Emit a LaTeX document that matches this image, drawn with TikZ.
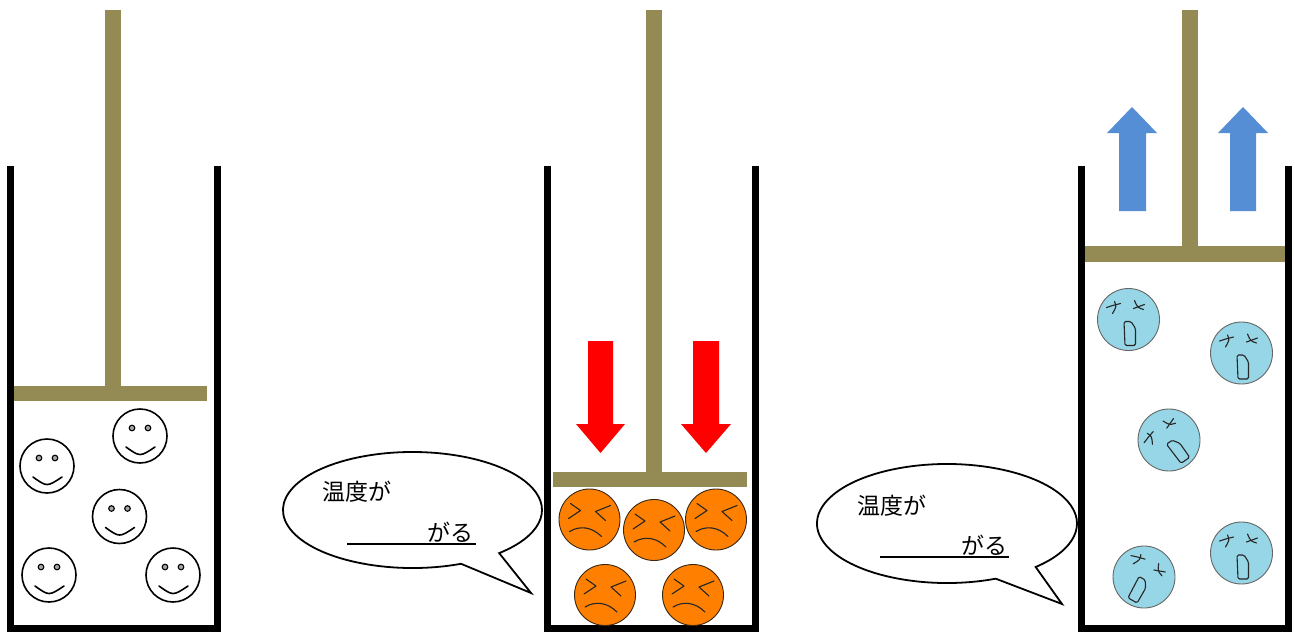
\documentclass[tikz,border=0pt]{standalone}
\usepackage{fontspec}
\newfontfamily\jpfont{Noto Sans CJK JP}
\usetikzlibrary{calc}

\definecolor{pistoncol}{RGB}{148,138,84}
\definecolor{pushred}{RGB}{255,0,0}
\definecolor{pullblue}{RGB}{85,142,213}
\definecolor{hotface}{RGB}{255,128,0}
\definecolor{coldface}{RGB}{150,214,230}

\tikzset{
  wall/.style={line width=7pt, line cap=butt, line join=miter},
  piston/.style={fill=pistoncol, draw=none},
  bubble/.style={draw=black, fill=white, line width=1.8pt, line join=miter},
  jp/.style={font=\jpfont\fontsize{23}{28}\selectfont, inner sep=0pt},
  uline/.style={line width=2.4pt},
  feat/.style={draw=black!85, line width=1.1pt, line cap=round, line join=round},
  smiley/.pic={
    \draw[line width=1.6pt] (0,0) circle[radius=27];
    \draw[line width=1.1pt, fill=black!35] (-8,-8) circle[radius=2.8];
    \draw[line width=1.1pt, fill=black!35] (8,-8) circle[radius=2.8];
    \draw[line width=1.6pt, line cap=round] (-14,11) .. controls (0,21) .. (15,11);
  },
  angry/.pic={
    \draw[fill=hotface, draw=black!70!brown, line width=0.9pt] (0,0) circle[radius=30.5];
    \draw[feat] (-19,-16) -- (-9,-9) -- (-21,-1);
    \draw[feat] (21,-14) -- (6,-8) -- (16,1);
    \draw[feat] (-20,12) .. controls (-10,6) and (2,7) .. (12,17);
  },
  dizzy/.pic={
    \draw[fill=coldface, draw=black!60, line width=0.9pt] (0,0) circle[radius=31];
    \draw[feat] (-22,-12) .. controls (-16,-14) .. (-8,-16);
    \draw[feat] (-14,-18) .. controls (-12,-13) .. (-16,-6);
    \draw[feat] (6,-19) .. controls (9,-12) .. (15,-10);
    \draw[feat] (5,-11) -- (16,-15);
    \draw[feat, rounded corners=1.5pt] (-4.5,2) -- (2.5,2) -- (7,9) -- (7,26) -- (-3.5,26) -- cycle;
  }
}

\begin{document}
\begin{tikzpicture}[x=1pt,y=-1pt]
\useasboundingbox[fill=white] (0,0) rectangle (1295,632);

% ---- left cylinder: piston at rest ----
\fill[piston] (105,10) rectangle (121,386);
\fill[piston] (13,386) rectangle (207,401);
\draw[wall] (10,166) -- (10,628) -- (217,628) -- (217,166);
\pic at (140,436) {smiley};
\pic at (47,466) {smiley};
\pic at (119.5,516.5) {smiley};
\pic at (49,575) {smiley};
\pic at (173,575) {smiley};

% ---- middle cylinder: compression ----
\fill[piston] (646,10) rectangle (662,472);
\fill[piston] (553,472) rectangle (747,487);
\draw[wall] (547,166) -- (547,628) -- (755,628) -- (755,166);
\fill[pushred] (588,341) -- (613,341) -- (613,424) -- (625,424) -- (600.5,453)
  -- (576,424) -- (588,424) -- cycle;
\fill[pushred] (693,341) -- (719,341) -- (719,424) -- (731,424) -- (706,453)
  -- (681,424) -- (693,424) -- cycle;
\pic at (589.5,519.5) {angry};
\pic at (654,530) {angry};
\pic at (716,519.5) {angry};
\pic at (605,595) {angry};
\pic at (693,595) {angry};

% ---- right cylinder: expansion ----
\fill[piston] (1182,10) rectangle (1198,246);
\fill[piston] (1085,246) rectangle (1285,262);
\draw[wall] (1081,166) -- (1081,628) -- (1288,628) -- (1288,166);
\fill[pullblue] (1119,211) -- (1146,211) -- (1146,133) -- (1157,133) -- (1132,107)
  -- (1107,133) -- (1119,133) -- cycle;
\fill[pullblue] (1230,211) -- (1256,211) -- (1256,133) -- (1268,133) -- (1243,107)
  -- (1218,133) -- (1230,133) -- cycle;
\pic at (1128.5,319.5) {dizzy};
\pic at (1241.5,353) {dizzy};
\pic[rotate=35] at (1169,440) {dizzy};
\pic[rotate=-30] at (1144,577) {dizzy};
\pic at (1241.5,553) {dizzy};

% ---- speech bubbles ----
\draw[bubble] (412.5,510) ++(68:129.5 and 58)
  arc[start angle=68, end angle=408, x radius=129.5, y radius=58]
  -- (531,593) -- cycle;
\node[jp, anchor=west] (q1a) at (322,492) {温度が};
\node[jp, anchor=east] (q1b) at (474,532) {がる};
\draw[uline] (347,544) -- (476,544);

\draw[bubble] (947,523.5) ++(68:130 and 59.5)
  arc[start angle=68, end angle=407, x radius=130, y radius=59.5]
  -- (1062,604) -- cycle;
\node[jp, anchor=west] (q2a) at (857,506) {温度が};
\node[jp, anchor=east] (q2b) at (1008,545) {がる};
\draw[uline] (880,557) -- (1009,557);
\end{tikzpicture}
\end{document}
